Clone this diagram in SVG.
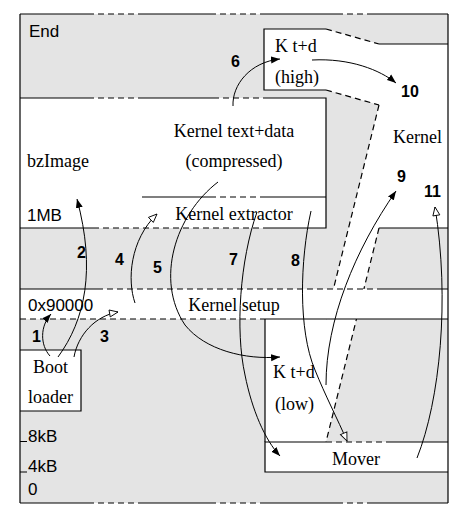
<svg xmlns="http://www.w3.org/2000/svg" width="464" height="518" viewBox="0 0 464 518">
<style>
.ln{stroke:#000;stroke-width:1.2;fill:none}
.ds{stroke:#000;stroke-width:1.2;fill:none;stroke-dasharray:6 4}
.wh{fill:#fff;stroke:none}
.sans{font-family:"Liberation Sans",Arial,sans-serif;font-size:17px;fill:#000}
.serif{font-family:"Liberation Serif","Times New Roman",serif;font-size:18px;fill:#000}
.num{font-family:"Liberation Sans",Arial,sans-serif;font-size:16px;font-weight:bold;fill:#000}
.cv{stroke:#000;stroke-width:1;fill:none}
.fa{marker-end:url(#af)}
.oa{marker-end:url(#ao)}
</style>
<defs>
<marker id="af" markerUnits="userSpaceOnUse" markerWidth="10" markerHeight="8" refX="9" refY="4" orient="auto">
<path d="M0,0.5 L9,4 L0,7.5 z" fill="#000"/>
</marker>
<marker id="ao" markerUnits="userSpaceOnUse" markerWidth="11" markerHeight="9" refX="9.5" refY="4.5" orient="auto">
<path d="M1,1 L9.5,4.5 L1,8 z" fill="#fff" stroke="#000" stroke-width="0.9"/>
</marker>
</defs>

<g id="background">
<rect x="20" y="14" width="428" height="489" fill="#e4e4e4"/>
</g>

<g id="region-end">
<text class="sans" x="29" y="37">End</text>
</g>

<g id="kernel-high-band">
<polygon class="wh" points="264,29 326,29 379,44 448,44 448,228 379,228 326,442 265,442 265,319 326,319 379,105 326,90 264,90"/>
<path class="ln" d="M326,29 H264 V90 H326"/>
<path class="ds" d="M326,29 L379,44 M326,90 L379,105"/>
<path class="ln" d="M379,44 H448 M379,228 H448"/>
<path class="ds" d="M379,105 L326,319 M379,228 L326,442"/>
<text class="serif" x="275" y="52">K t+d</text>
<text class="serif" x="275" y="83">(high)</text>
<text class="serif" x="393" y="143">Kernel</text>
</g>

<g id="bzimage">
<rect class="wh" x="20" y="98" width="306" height="130"/>
<path class="ln" d="M20,98 H88 M140,98 H213 M263,98 H326 V228 H263 M93,228 H20"/>
<path class="ds" d="M88,98 H140 M213,98 H263 M93,228 H263"/>
<path class="ln" d="M142,197 H210 M260,197 H326"/>
<path class="ds" d="M210,197 H260"/>
<text class="serif" x="27" y="167">bzImage</text>
<text class="serif" x="234" y="137" text-anchor="middle">Kernel text+data</text>
<text class="serif" x="234" y="167" text-anchor="middle">(compressed)</text>
<text class="serif" x="234" y="220" text-anchor="middle">Kernel extractor</text>
<text class="sans" x="27" y="221">1MB</text>
</g>

<g id="setup">
<rect class="wh" x="20" y="289" width="428" height="30"/>
<path class="ln" d="M20,289 H97 M383,289 H448 M265,319 H448"/>
<path class="ds" d="M97,289 H383 M20,319 H265"/>
<text class="sans" x="28" y="311">0x90000</text>
<text class="serif" x="234" y="311" text-anchor="middle">Kernel setup</text>
</g>

<g id="boot-loader">
<rect class="wh" x="20" y="350" width="61" height="61"/>
<path class="ln" d="M20,350 H81 V411 H20"/>
<text class="serif" x="33" y="373">Boot</text>
<text class="serif" x="28" y="403">loader</text>
</g>

<g id="kernel-low">
<path class="ln" d="M265,319 V442"/>
<text class="serif" x="273" y="378">K t+d</text>
<text class="serif" x="275" y="410">(low)</text>
</g>

<g id="mover">
<rect class="wh" x="265" y="442" width="183" height="30"/>
<path class="ln" d="M326,442 H265 V472 H448 M387,442 H448"/>
<path class="ds" d="M326,442 H387"/>
<text class="serif" x="356" y="465" text-anchor="middle">Mover</text>
</g>

<g id="frame">
<path class="ln" d="M20,14 V503 M448,14 V503"/>
<path class="ln" d="M20,14 H88 M142,14 H210 M263,14 H337 M373,14 H448"/>
<path class="ds" d="M88,14 H142 M210,14 H263 M337,14 H373"/>
<path class="ln" d="M20,503 H88 M142,503 H210 M263,503 H337 M373,503 H448"/>
<path class="ds" d="M88,503 H142 M210,503 H263 M337,503 H373"/>
<path class="ln" d="M20,441.5 H27 M20,472 H27"/>
<text class="sans" x="28" y="442">8kB</text>
<text class="sans" x="28" y="472">4kB</text>
<text class="sans" x="28" y="495">0</text>
</g>

<g id="connectors">
<path class="cv fa" d="M50,356 C40,345 40,326 51,314"/>
<path class="cv fa" d="M58,357 C85,320 96,270 77,199"/>
<path class="cv oa" d="M74,357 C78,335 95,316 118,312"/>
<path class="cv oa" d="M135,303 C127,280 130,240 157,214"/>
<path class="cv fa" d="M218,182 C175,215 155,280 185,325 C205,350 245,360 280,357"/>
<path class="cv fa" d="M233,106 C232,85 250,62 280,59"/>
<path class="cv fa" d="M257,212 C240,260 235,330 245,375 C252,410 265,440 280,456"/>
<path class="cv oa" d="M311,211 C300,260 298,330 315,370 C325,395 338,420 347,441"/>
<path class="cv fa" d="M326,385 C326,320 355,250 396,191"/>
<path class="cv fa" d="M312,60 C350,58 380,70 396,83"/>
<path class="cv oa" d="M417,458 C440,400 450,300 435,207"/>
</g>

<g id="labels">
<text class="num" x="231" y="67">6</text>
<text class="num" x="401" y="97">10</text>
<text class="num" x="397" y="182">9</text>
<text class="num" x="424" y="197">11</text>
<text class="num" x="77" y="258">2</text>
<text class="num" x="115" y="265">4</text>
<text class="num" x="153" y="273">5</text>
<text class="num" x="229" y="265">7</text>
<text class="num" x="291" y="266">8</text>
<text class="num" x="32" y="342">1</text>
<text class="num" x="100" y="342">3</text>
</g>
</svg>
